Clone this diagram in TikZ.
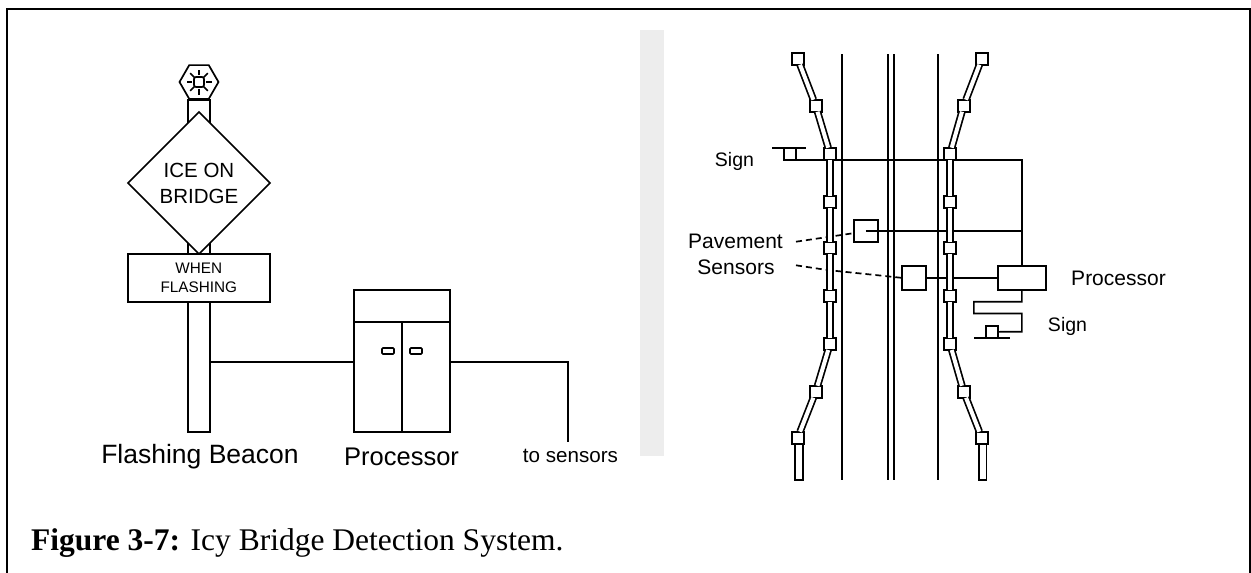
\documentclass[tikz,border=0pt]{standalone}
\usepackage{fontspec}
\setmainfont{Liberation Sans}
\newfontfamily\capfont{Liberation Serif}
\usetikzlibrary{shapes.geometric}
\definecolor{barfill}{HTML}{EDEDED}
\tikzset{
  wire/.style={line width=1.7pt,draw=black},
  frameline/.style={line width=2pt,draw=black},
  vrect/.style={draw=black,fill=white,line width=1.7pt,inner sep=0pt,outer sep=0pt,align=center},
  vsq/.style={vrect,minimum width=12pt,minimum height=12pt},
  vconduit/.style={line width=1.7pt,draw=black,double=white,double distance=4pt},
  vdash/.style={line width=1.7pt,draw=black,dash pattern=on 6pt off 4pt},
  vlabel/.style={anchor=base,inner sep=0pt,font=\fontsize{21}{25}\selectfont}
}
\begin{document}
\begin{tikzpicture}[x=1pt,y=-1pt]
  \useasboundingbox (0,0) rectangle (1251,573);
  \draw[frameline] (7,573) -- (7,9) -- (1250,9) -- (1250,573);
  \node[fill=barfill,inner sep=0pt,minimum width=23.7pt,minimum height=426pt] (bar) at (651.85,243) {};

  \node[vrect,minimum width=22pt,minimum height=331.7pt] (post) at (199,265.85) {};
  \node[vrect,regular polygon,regular polygon sides=6,minimum size=39pt] (hex) at (199,82) {};
  \node[vrect,rounded corners=2pt,minimum width=10pt,minimum height=10pt] (lamp) at (hex.center) {};
  \foreach \a in {0,45,...,315} \draw[wire,shift={(lamp)}] (\a:6.8) -- (\a:12.5);
  \node[vrect,diamond,minimum width=142pt,minimum height=142pt,font=\fontsize{20.5}{26}\selectfont] (warn) at (199,183) {ICE ON\\BRIDGE};
  \node[vrect,minimum width=142.3pt,minimum height=47.7pt,font=\fontsize{15.3}{18.5}\selectfont] (plate) at (198.85,277.85) {WHEN\\FLASHING};

  \node[vrect,minimum width=96pt,minimum height=31.7pt] (cabtop) at (402,305.85) {};
  \node[vrect,minimum width=48pt,minimum height=110pt] (doorl) at (378,376.7) {};
  \node[vrect,minimum width=48pt,minimum height=110pt] (doorr) at (426,376.7) {};
  \node[vrect,rounded corners=1pt,minimum width=12pt,minimum height=6pt] (hndl) at (388,351) {};
  \node[vrect,rounded corners=1pt,minimum width=12pt,minimum height=6pt] (hndr) at (416,351) {};
  \coordinate (tapa) at ([yshift=15pt]doorl.west);
  \coordinate (tapb) at ([yshift=15pt]doorr.east);
  \coordinate (sensend) at (568.3,441.7);
  \draw[wire] (tapa) -- (tapa -| post.east);
  \draw[wire] (tapb) -| (sensend);
  \node[vlabel,font=\fontsize{26.5}{30}\selectfont] (beaconlab) at (200,463) {Flashing Beacon};
  \node[vlabel,font=\fontsize{25.5}{30}\selectfont] (proclab) at (401.6,465) {Processor};
  \node[vlabel,font=\fontsize{20.6}{24}\selectfont] (senslab) at (570.5,462) {to sensors};

  \foreach \rx in {842,888,893.7,937.7} \draw[wire] (\rx,54) -- (\rx,480);

  \node[vrect,minimum width=24.3pt,minimum height=22.3pt] (sa) at (865.85,230.85) {};
  \node[vrect,minimum width=24.3pt,minimum height=24.3pt] (sb) at (913.85,277.85) {};
  \node[vrect,minimum width=48.3pt,minimum height=24.3pt] (proc) at (1021.85,277.85) {};
  \node[vrect,minimum width=12pt,minimum height=12pt] (signl) at (790,153.85) {};
  \node[vrect,minimum width=12pt,minimum height=11.7pt] (signr) at (992,331.85) {};
  \draw[wire] ([xshift=-18pt]signl.north) -- ([xshift=16pt]signl.north);
  \draw[wire] ([xshift=-18pt]signr.south) -- ([xshift=17.7pt]signr.south);
  \coordinate (busa) at (proc.north |- signl.south);
  \coordinate (busb) at (proc.north |- sa.center);
  \draw[wire] (signl.south west) -- (busa) -- (proc.north);
  \draw[wire] (sa.center) -- (busb);
  \draw[wire] (sb.east) -- (proc.west);
  \draw[wire] (proc.south) -- ++(0,11.8) -- ++(-48,0) -- ++(0,11.7) -- ++(48,0) -- ++(0,18.3) -- (signr.east);

  \coordinate (dasha) at (796,241.7);
  \coordinate (dashb) at (796,265.3);
  \draw[vdash] (dasha) -- ([yshift=-2.3pt]sa.west);
  \draw[vdash] (dashb) -- (827,270) -- (880,275.5) -- (sb.west);

  \foreach \n/\x/\y in {1/797.7/58.7,2/815.7/105.7,3/830/153.7,4/830/201.7,5/830/247.7,6/830/295.7,7/830/344,8/815.7/391.7,9/797.7/437.7}
    \node[vsq] (l\n) at (\x,\y) {};
  \foreach \n/\x/\y in {1/981.7/58.7,2/963.7/105.7,3/950/153.7,4/950/201.7,5/950/247.7,6/950/295.7,7/950/344,8/963.7/391.7,9/981.7/437.7}
    \node[vsq] (r\n) at (\x,\y) {};
  \node[vrect,minimum width=7.4pt,minimum height=36pt] (ltail) at (799,462) {};
  \node[vrect,minimum width=7.4pt,minimum height=36pt] (rtail) at (982.7,462) {};
  \foreach \a/\b in {1/2,2/3,3/4,4/5,5/6,6/7,7/8,8/9} {
    \draw[vconduit] (l\a) -- (l\b);
    \draw[vconduit] (r\a) -- (r\b);
  }

  \node[vlabel,font=\fontsize{19.5}{24}\selectfont] (signlab) at (734.5,166) {Sign};
  \node[vlabel] (pavelab) at (735.5,248) {Pavement};
  \node[vlabel] (senslabb) at (736,274) {Sensors};
  \node[vlabel] (proclabb) at (1118.5,285) {Processor};
  \node[vlabel,font=\fontsize{19.5}{24}\selectfont] (signlabb) at (1067.5,331) {Sign};

  \node[anchor=base west,inner sep=0pt,font=\capfont\fontsize{31.5}{36}\selectfont] (cap) at (31,550) {\textbf{Figure 3-7:} Icy Bridge Detection System.};
\end{tikzpicture}
\end{document}
